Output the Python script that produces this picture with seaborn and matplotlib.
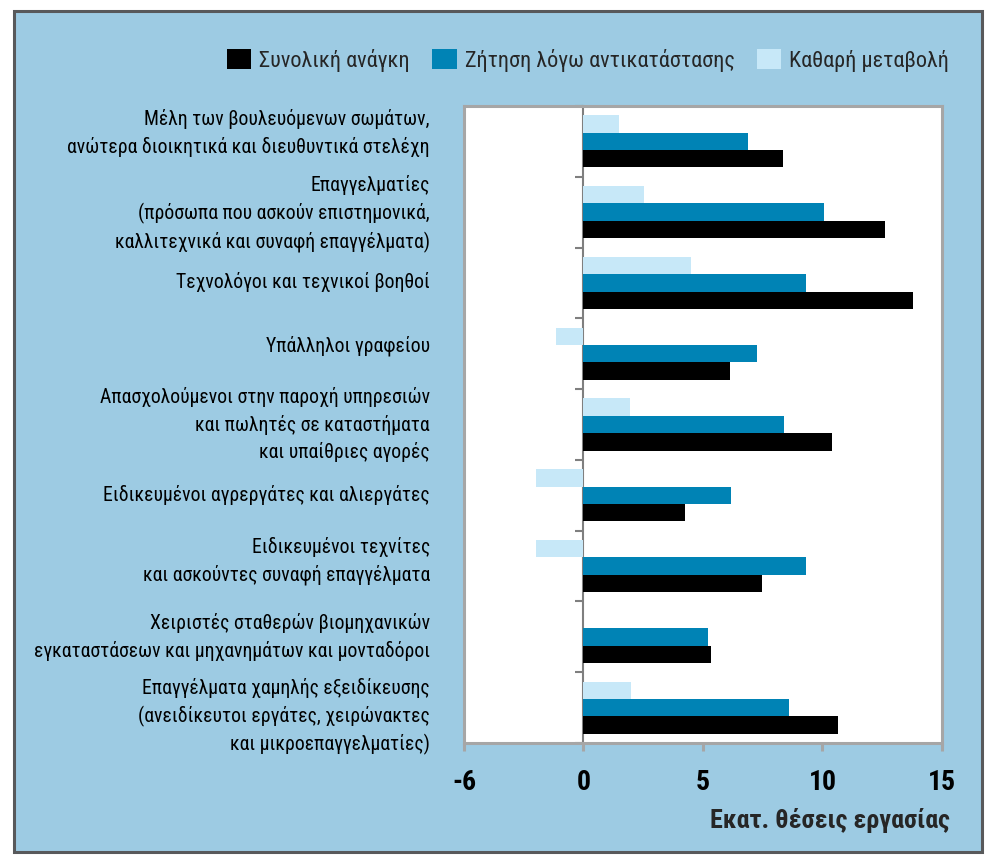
import numpy as np
import pandas as pd
import matplotlib
matplotlib.use("Agg")
import matplotlib.pyplot as plt
from matplotlib.patches import Patch, Rectangle
import seaborn as sns

categories = [
    "Μέλη των βουλευόμενων σωμάτων,\nανώτερα διοικητικά και διευθυντικά στελέχη",
    "Επαγγελματίες\n(πρόσωπα που ασκούν επιστημονικά,\nκαλλιτεχνικά και συναφή επαγγέλματα)",
    "Τεχνολόγοι και τεχνικοί βοηθοί",
    "Υπάλληλοι γραφείου",
    "Απασχολούμενοι στην παροχή υπηρεσιών\nκαι πωλητές σε καταστήματα\nκαι υπαίθριες αγορές",
    "Ειδικευμένοι αγρεργάτες και αλιεργάτες",
    "Ειδικευμένοι τεχνίτες\nκαι ασκούντες συναφή επαγγέλματα",
    "Χειριστές σταθερών βιομηχανικών\nεγκαταστάσεων και μηχανημάτων και μονταδόροι",
    "Επαγγέλματα χαμηλής εξειδίκευσης\n(ανειδίκευτοι εργάτες, χειρώνακτες\nκαι μικροεπαγγελματίες)",
]
series_names = ["Συνολική ανάγκη", "Ζήτηση λόγω αντικατάστασης", "Καθαρή μεταβολή"]
total_need = [8.33, 12.6, 13.77, 6.11, 10.38, 4.23, 7.45, 5.32, 10.63]
replacement = [6.9, 10.05, 9.29, 7.24, 8.41, 6.19, 9.33, 5.23, 8.58]
net_change = [1.47, 2.55, 4.48, -1.13, 1.93, -1.97, -1.97, 0.0, 2.0]
tick_values = [-5, 0, 5, 10, 15]
tick_labels = ["-6", "0", "5", "10", "15"]
xlabel = "Εκατ. θέσεις εργασίας"

# layout only: small vertical nudges of the category labels (in category units)
label_nudge = [-0.20, -0.06, -0.04, -0.14, -0.08, -0.03, -0.16, -0.08, 0.04]

colors = {"Συνολική ανάγκη": "#000000",
          "Ζήτηση λόγω αντικατάστασης": "#0083b5",
          "Καθαρή μεταβολή": "#c7e8f8"}

rows = []
for name, vals in zip(series_names, [total_need, replacement, net_change]):
    for c, v in zip(categories, vals):
        rows.append({"cat": c, "series": name, "value": v})
df = pd.DataFrame(rows)

sns.set_style("white")
plt.rcParams["font.family"] = ["Roboto Condensed", "Open Sans Condensed",
                               "DejaVu Sans"]
plt.rcParams["font.stretch"] = "condensed"

bg = "#9dcbe3"
fig = plt.figure(figsize=(9.95, 8.61), dpi=100, facecolor="white")
fig.patches.append(Rectangle((14.5 / 995, 1 - 851.5 / 861),
                             (982.5 - 14.5) / 995, (851.5 - 10.5) / 861,
                             transform=fig.transFigure, facecolor=bg,
                             edgecolor="#58595b", linewidth=2.2, zorder=-10))

ax = fig.add_axes([464 / 995, 1 - 743 / 861, (942 - 464) / 995, (743 - 106) / 861])
ax.set_facecolor("white")

hue_order = ["Καθαρή μεταβολή", "Ζήτηση λόγω αντικατάστασης", "Συνολική ανάγκη"]
sns.barplot(data=df, y="cat", x="value", hue="series", hue_order=hue_order,
            order=categories, palette=colors, orient="h", width=0.735,
            saturation=1, linewidth=0, legend=False, ax=ax)

ax.set_xlim(-5, 15)
ax.set_ylim(len(categories) - 0.5, -0.5)
ax.set_yticks(np.arange(len(categories)) + np.array(label_nudge), labels=categories)
ax.set_xticks(tick_values)
ax.set_xticklabels(tick_labels, fontsize=20, fontweight="bold")
ax.set_ylabel("")
ax.set_xlabel(xlabel, fontsize=18.8, fontweight="bold", ha="right")
ax.xaxis.set_label_coords(1.017, -0.102)

frame = "#a6a6a6"
for s in ax.spines.values():
    s.set_visible(True)
    s.set_color(frame)
    s.set_linewidth(2.2)
ax.tick_params(axis="x", direction="out", length=5.8, width=2.2, color=frame,
               pad=13, labelcolor="black", bottom=True)
ax.tick_params(axis="y", length=0, pad=24.5, labelsize=14.2, labelcolor="black")
for lbl in ax.get_yticklabels():
    lbl.set_linespacing(1.46)
    lbl.set_multialignment("right")

sec = ax.secondary_yaxis(0, transform=ax.transData)
sec.set_yticks(np.arange(-0.5, len(categories), 1.0))
sec.tick_params(axis="y", direction="out", length=5.8, width=1.5,
                color="#7f7f7f", labelleft=False)
sec.spines["left"].set_color("#7f7f7f")
sec.spines["left"].set_linewidth(1.5)

handles = [Patch(facecolor=colors[n], edgecolor="none") for n in series_names]
fig.legend(handles, series_names, loc="center right",
           bbox_to_anchor=(949 / 995, 1 - 60 / 861), ncol=3, frameon=False,
           fontsize=16, handlelength=1.1, handleheight=1.05,
           handletextpad=0.36, columnspacing=1.0, borderpad=0, borderaxespad=0)

fig.savefig("out.png", dpi=100, facecolor="white")
